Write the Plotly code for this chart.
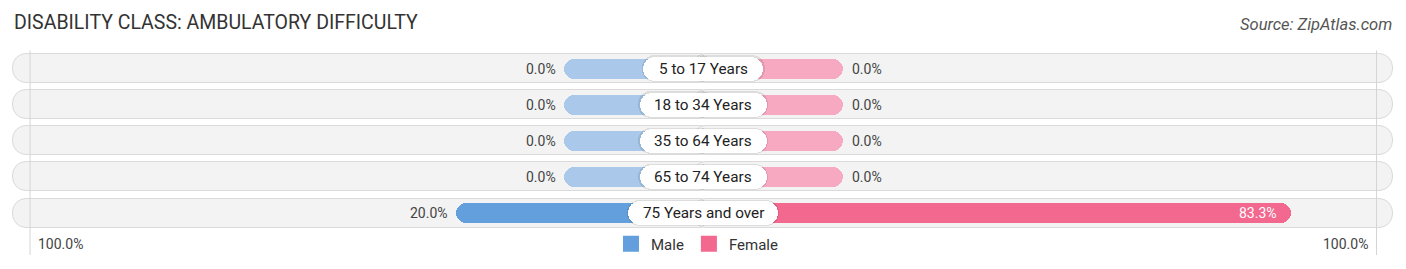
import plotly.graph_objects as go

# ---- data ----
categories = ["5 to 17 Years", "18 to 34 Years", "35 to 64 Years", "65 to 74 Years", "75 Years and over"]
male = [0.0, 0.0, 0.0, 0.0, 20.0]
female = [0.0, 0.0, 0.0, 0.0, 83.3]
axis_label = "100.0%"
title = "DISABILITY CLASS: AMBULATORY DIFFICULTY"
source = "Source: ZipAtlas.com"

# ---- style ----
FONT = "Roboto"
PX_PER_UNIT_X = 5.373          # pixels per percent
PX_PER_ROW = 36.15             # pixels per row
OFFSET = 26.0                  # minimum bar length (percent units) hidden under the label
GRID = 125.3                   # position of the 100% guide lines
BG_HALF = 128.4
OVERLAP = 2.0                  # halves overlap in the middle to avoid a seam
MALE_FULL, MALE_LIGHT = "#629fdc", "#a9c8ea"
FEMALE_FULL, FEMALE_LIGHT = "#f2688f", "#f7a9c1"

W, H = 1406, 269
x_left = -703.3 / PX_PER_UNIT_X
x_right = (W - 703.3) / PX_PER_UNIT_X
y_top = -68.5 / PX_PER_ROW
y_bottom = (H - 68.5) / PX_PER_ROW

fig = go.Figure()

def half_bars(ends, color, width, radius, line=None):
    """Bars from the centre (slightly overlapping it) out to the given ends."""
    bases = [OVERLAP if e < 0 else -OVERLAP for e in ends]
    lengths = [e - b for e, b in zip(ends, bases)]
    fig.add_trace(go.Bar(
        x=lengths, y=categories, orientation="h", base=bases,
        width=width, marker=dict(color=color, cornerradius=radius,
                                 line=line or dict(width=0)),
        hoverinfo="skip", showlegend=False))

# background pills
half_bars([-BG_HALF] * len(categories), "#f3f3f3", 29 / PX_PER_ROW, 14,
          dict(color="#dadada", width=1))
half_bars([BG_HALF] * len(categories), "#f3f3f3", 29 / PX_PER_ROW, 14,
          dict(color="#dadada", width=1))

# data bars
male_len = [-(OFFSET + v) for v in male]
female_len = [OFFSET + v for v in female]
half_bars(male_len, [MALE_FULL if v > 0 else MALE_LIGHT for v in male], 20 / PX_PER_ROW, 10)
half_bars(female_len, [FEMALE_FULL if v > 0 else FEMALE_LIGHT for v in female], 20 / PX_PER_ROW, 10)

# label pills (width derived from the label length)
pill_half = [(7.4 * len(c) + 24) / 2 / PX_PER_UNIT_X for c in categories]
shadow = "rgba(0,0,0,0.09)"
half_bars([-(p + 1.2 / PX_PER_UNIT_X) for p in pill_half], shadow, 26.5 / PX_PER_ROW, 13)
half_bars([p + 1.2 / PX_PER_UNIT_X for p in pill_half], shadow, 26.5 / PX_PER_ROW, 13)
half_bars([-p for p in pill_half], "white", 24 / PX_PER_ROW, 12)
half_bars(pill_half, "white", 24 / PX_PER_ROW, 12)

# legend entries
fig.add_trace(go.Scatter(x=[None], y=[None], mode="markers", name="Male",
                         marker=dict(symbol="square", size=16, color=MALE_FULL)))
fig.add_trace(go.Scatter(x=[None], y=[None], mode="markers", name="Female",
                         marker=dict(symbol="square", size=16, color=FEMALE_FULL)))

annotations = []
for c in categories:
    annotations.append(dict(x=0, y=c, text=c, showarrow=False, xanchor="center",
                            yanchor="middle", font=dict(family=FONT, size=15.3, color="#222")))
for c, v, xv in zip(categories, male, male_len):
    annotations.append(dict(x=xv, y=c, text=f"{v:.1f}%", showarrow=False, xanchor="right",
                            xshift=-6, yanchor="middle",
                            font=dict(family=FONT, size=14, color="#444")))
for c, v, xv in zip(categories, female, female_len):
    inside = v > 50
    annotations.append(dict(x=xv, y=c, text=f"{v:.1f}%", showarrow=False,
                            xanchor="right" if inside else "left",
                            xshift=-12 if inside else 7, yanchor="middle",
                            font=dict(family=FONT, size=14, color="white" if inside else "#444")))
# axis end labels
y_axis_lbl = (244 - 68.5) / PX_PER_ROW
annotations.append(dict(x=-GRID, y=y_axis_lbl, text=axis_label, showarrow=False, xanchor="left",
                        xshift=6, yanchor="middle", yref="y",
                        font=dict(family=FONT, size=14, color="#444")))
annotations.append(dict(x=GRID, y=y_axis_lbl, text=axis_label, showarrow=False, xanchor="right",
                        xshift=-7, yanchor="middle", yref="y",
                        font=dict(family=FONT, size=14, color="#444")))
# title & source
annotations.append(dict(x=12 / W, y=1 - 22 / H, xref="paper", yref="paper", text=title,
                        showarrow=False, xanchor="left", yanchor="middle",
                        font=dict(family=FONT, size=19.5, color="#333")))
annotations.append(dict(x=1394 / W, y=1 - 25 / H, xref="paper", yref="paper",
                        text=f"<i>{source}</i>", showarrow=False, xanchor="right",
                        yanchor="middle", font=dict(family=FONT, size=16.5, color="#555")))

shapes = []
for gx in (-GRID, GRID):
    shapes.append(dict(type="line", x0=gx, x1=gx, y0=-0.5, y1=(255 - 68.5) / PX_PER_ROW,
                       xref="x", yref="y", line=dict(color="#d4d4d4", width=1), layer="above"))

fig.update_layout(
    width=W, height=H, margin=dict(l=0, r=0, t=0, b=0),
    paper_bgcolor="white", plot_bgcolor="white",
    barmode="overlay", bargap=0,
    xaxis=dict(range=[x_left, x_right], visible=False, fixedrange=True),
    yaxis=dict(range=[y_bottom, y_top], visible=False, type="category",
               categoryorder="array", categoryarray=categories, fixedrange=True),
    showlegend=True,
    legend=dict(orientation="h", x=0.5 - 6 / W, xanchor="center", y=1 - 244 / H, yanchor="middle",
                font=dict(family=FONT, size=15, color="#333"), bgcolor="rgba(0,0,0,0)",
                itemsizing="trace"),
    annotations=annotations, shapes=shapes,
)

fig.write_html("out.html")
